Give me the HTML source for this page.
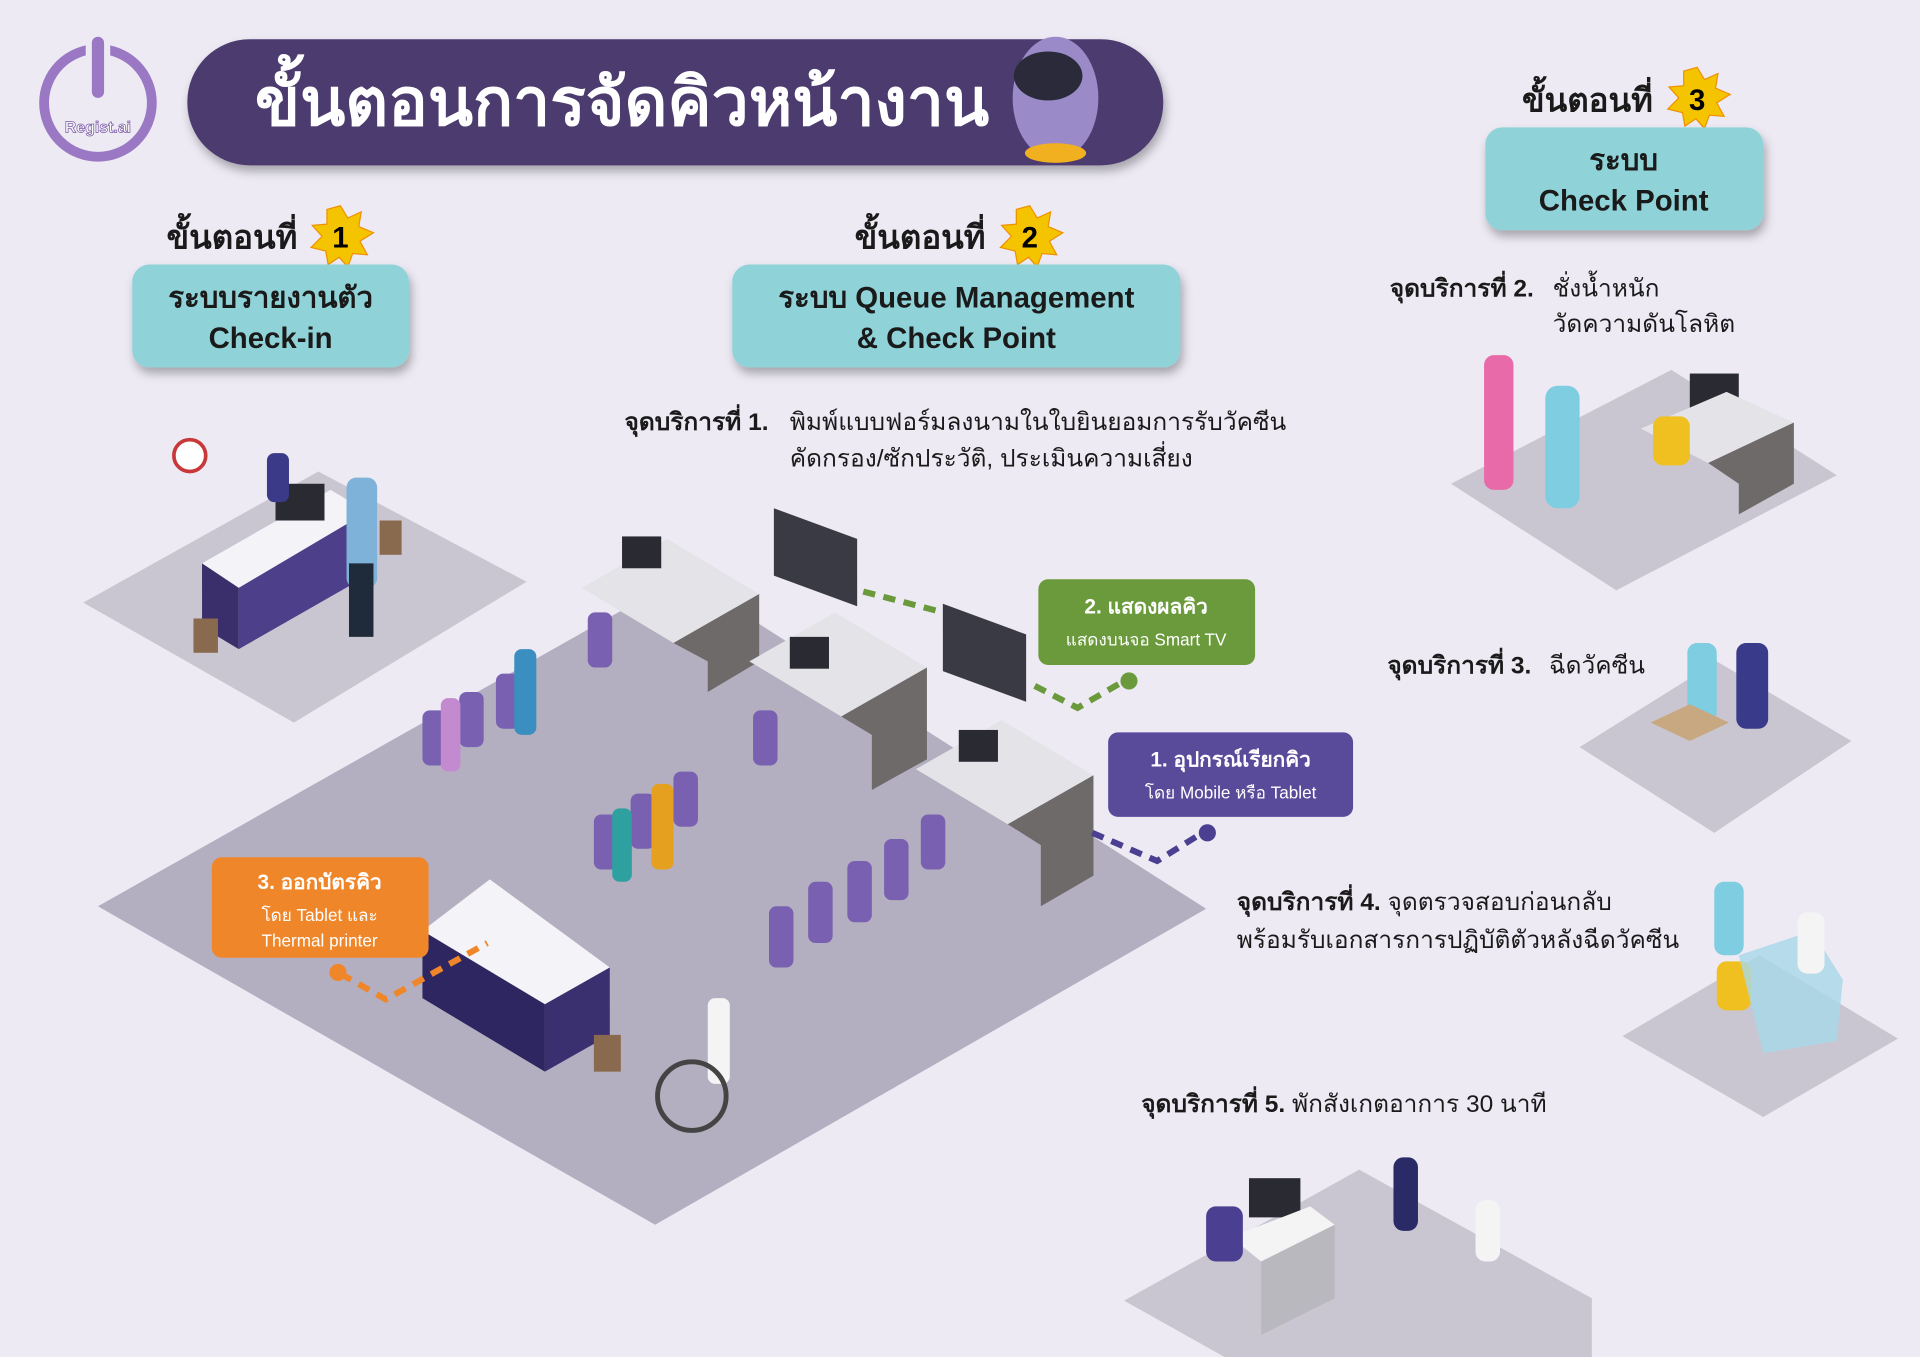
<!DOCTYPE html>
<html><head><meta charset="utf-8">
<style>
html,body{margin:0;padding:0;background:#EDEAF4;}
svg{display:block;}
text{font-family:"Liberation Sans","DejaVu Sans",sans-serif;}
</style></head>
<body>
<svg width="1920" height="1357" viewBox="0 0 1568 1108" preserveAspectRatio="none" xmlns="http://www.w3.org/2000/svg">
<defs>
<filter id="sh" x="-10%" y="-10%" width="130%" height="150%"><feDropShadow dx="2" dy="5" stdDeviation="4" flood-color="#000" flood-opacity="0.3"/></filter>
</defs>
<rect width="1568" height="1108" fill="#EDEAF4"/>

<!-- logo -->
<circle cx="80" cy="84" r="44" fill="none" stroke="#9A78C4" stroke-width="8"/>
<rect x="70" y="28" width="20" height="50" rx="10" fill="#EDEAF4"/>
<rect x="75" y="30" width="10" height="50" rx="5" fill="#9A78C4"/>
<text x="80" y="108" font-size="13" font-weight="bold" fill="#fff" stroke="#7A5AA4" stroke-width="0.6" text-anchor="middle">Regist.ai</text>

<!-- title pill -->
<rect x="153" y="32" width="797" height="103" rx="51" fill="#4B3A6E" filter="url(#sh)"/>
<text x="508" y="102" font-size="54" font-weight="bold" fill="#fff" text-anchor="middle">ขั้นตอนการจัดคิวหน้างาน</text>
<!-- mascot -->
<ellipse cx="862" cy="80" rx="35" ry="50" fill="#9B8AC8"/>
<ellipse cx="856" cy="62" rx="28" ry="20" fill="#2A2A3A"/>
<ellipse cx="862" cy="125" rx="25" ry="8" fill="#F0B020"/>

<!-- step headings -->
<g font-weight="bold" font-size="27" fill="#1A1A1A">
<text x="136" y="203">ขั้นตอนที่</text>
<text x="698" y="203">ขั้นตอนที่</text>
<text x="1243" y="91">ขั้นตอนที่</text>
</g>
<g>
<polygon points="278,168 284,178 295,173 293,185 305,190 294,197 300,208 288,207 284,218 277,210 268,216 266,205 254,202 263,193 255,184 267,183 267,171" fill="#F5C400" stroke="#F09000"/>
<text x="278" y="202" font-size="24" font-weight="bold" text-anchor="middle">1</text>
<polygon points="841,168 847,178 858,173 856,185 868,190 857,197 863,208 851,207 847,218 840,210 831,216 829,205 817,202 826,193 818,184 830,183 830,171" fill="#F5C400" stroke="#F09000"/>
<text x="841" y="202" font-size="24" font-weight="bold" text-anchor="middle">2</text>
<polygon points="1386,55 1392,65 1403,60 1401,72 1413,77 1402,84 1408,95 1396,94 1392,105 1385,97 1376,103 1374,92 1362,89 1371,80 1363,71 1375,70 1375,58" fill="#F5C400" stroke="#F09000"/>
<text x="1386" y="90" font-size="24" font-weight="bold" text-anchor="middle">3</text>
</g>

<!-- teal boxes -->
<g filter="url(#sh)" fill="#8FD3D9">
<rect x="108" y="216" width="226" height="84" rx="14"/>
<rect x="598" y="216" width="366" height="84" rx="14"/>
<rect x="1213" y="104" width="227" height="84" rx="14"/>
</g>
<g font-weight="bold" font-size="24" fill="#1A1A1A" text-anchor="middle">
<text x="221" y="251">ระบบรายงานตัว</text>
<text x="221" y="284">Check-in</text>
<text x="781" y="251">ระบบ Queue Management</text>
<text x="781" y="284">&amp; Check Point</text>
<text x="1326" y="139">ระบบ</text>
<text x="1326" y="172">Check Point</text>
</g>

<!-- floors -->
<polygon points="68,492 240,590 430,475 260,385" fill="#C9C6D2"/>
<polygon points="80,740 535,1000 985,742 558,470" fill="#B3AFC0"/>
<polygon points="1185,395 1320,482 1500,388 1365,302" fill="#C9C6D2"/>
<polygon points="1290,610 1400,680 1512,605 1402,540" fill="#C9C6D2"/>
<polygon points="1325,846 1440,912 1550,848 1437,780" fill="#C9C6D2"/>
<polygon points="918,1062 1000,1108 1300,1108 1300,1060 1110,955" fill="#C9C6D2"/>

<!-- check-in desk -->
<polygon points="165,460 270,400 300,418 195,480" fill="#F4F4F8"/>
<polygon points="165,460 195,480 195,530 165,512" fill="#3A2F6A"/>
<polygon points="195,480 300,418 300,470 195,530" fill="#4E3F8A"/>
<rect x="225" y="395" width="40" height="30" fill="#2A2A33"/>
<rect x="283" y="390" width="25" height="90" rx="8" fill="#7EB2D8"/>
<rect x="285" y="460" width="20" height="60" fill="#1F2A3A"/>
<rect x="218" y="370" width="18" height="40" rx="6" fill="#3A3A88"/>
<circle cx="155" cy="372" r="13" fill="#fff" stroke="#C83838" stroke-width="3"/>
<rect x="158" y="505" width="20" height="28" fill="#8A6A4E"/>
<rect x="310" y="425" width="18" height="28" fill="#8A6A4E"/>

<!-- counters -->
<g>
<polygon points="475,480 545,440 620,485 550,525" fill="#E4E4E8"/>
<polygon points="550,525 620,485 620,540 578,565 578,540 550,525" fill="#6E6A6A"/>
<rect x="508" y="438" width="32" height="26" fill="#2A2A33"/>
<polygon points="612,540 682,500 757,545 687,585" fill="#E4E4E8"/>
<polygon points="687,585 757,545 757,620 712,645 712,600" fill="#6E6A6A"/>
<rect x="645" y="520" width="32" height="26" fill="#2A2A33"/>
<polygon points="748,628 818,588 893,633 823,673" fill="#E4E4E8"/>
<polygon points="823,673 893,633 893,715 850,740 850,690" fill="#6E6A6A"/>
<rect x="783" y="596" width="32" height="26" fill="#2A2A33"/>
</g>
<!-- TVs -->
<polygon points="632,415 700,440 700,495 632,470" fill="#3A3A44"/>
<polygon points="770,493 838,518 838,573 770,548" fill="#3A3A44"/>
<!-- chairs rows -->
<g fill="#7A60B0">
<rect x="345" y="580" width="20" height="45" rx="6"/><rect x="375" y="565" width="20" height="45" rx="6"/><rect x="405" y="550" width="20" height="45" rx="6"/>
<rect x="485" y="665" width="20" height="45" rx="6"/><rect x="515" y="648" width="20" height="45" rx="6"/><rect x="550" y="630" width="20" height="45" rx="6"/>
<rect x="628" y="740" width="20" height="50" rx="6"/><rect x="660" y="720" width="20" height="50" rx="6"/><rect x="692" y="703" width="20" height="50" rx="6"/><rect x="722" y="685" width="20" height="50" rx="6"/>
<rect x="480" y="500" width="20" height="45" rx="6"/><rect x="615" y="580" width="20" height="45" rx="6"/><rect x="752" y="665" width="20" height="45" rx="6"/>
</g>
<!-- people -->
<g>
<rect x="360" y="570" width="16" height="60" rx="6" fill="#C48AD0"/>
<rect x="420" y="530" width="18" height="70" rx="6" fill="#3A8FC0"/>
<rect x="532" y="640" width="18" height="70" rx="6" fill="#E6A020"/>
<rect x="500" y="660" width="16" height="60" rx="6" fill="#2EA0A0"/>
<rect x="578" y="815" width="18" height="70" rx="6" fill="#F4F4F4"/>
<circle cx="565" cy="895" r="28" fill="none" stroke="#444" stroke-width="4"/>
</g>
<!-- print desk -->
<polygon points="345,760 400,718 498,790 445,820" fill="#F4F4F8"/>
<polygon points="345,760 445,820 445,875 345,815" fill="#2E2660"/>
<polygon points="445,820 498,790 498,845 445,875" fill="#3A3070"/>
<rect x="485" y="845" width="22" height="30" fill="#8A6A4E"/>

<!-- step 3 scenes -->
<rect x="1380" y="305" width="40" height="30" fill="#2A2A33"/>
<polygon points="1340,350 1410,320 1465,345 1395,378" fill="#E4E4E8"/>
<polygon points="1395,378 1465,345 1465,395 1420,420 1420,395" fill="#6E6A6A"/>
<rect x="1212" y="290" width="24" height="110" rx="8" fill="#E86AA8"/>
<rect x="1262" y="315" width="28" height="100" rx="10" fill="#7ECDE0"/>
<rect x="1350" y="340" width="30" height="40" rx="8" fill="#F0C020"/>
<rect x="1378" y="525" width="24" height="65" rx="8" fill="#7ECDE0"/>
<rect x="1418" y="525" width="26" height="70" rx="8" fill="#3A3A8A"/>
<polygon points="1348,590 1380,575 1412,590 1380,605" fill="#C8A880"/>
<rect x="1400" y="720" width="24" height="60" rx="8" fill="#7ECDE0"/>
<rect x="1402" y="785" width="28" height="40" rx="8" fill="#F0C020"/>
<polygon points="1420,780 1480,760 1505,800 1500,850 1440,860" fill="#A8D8E8" opacity="0.8"/>
<rect x="1468" y="745" width="22" height="50" rx="8" fill="#F4F4F4"/>
<rect x="1020" y="962" width="42" height="32" fill="#2A2A33"/>
<polygon points="1005,1010 1070,985 1090,1000 1030,1030" fill="#F4F4F4"/>
<polygon points="1030,1030 1090,1000 1090,1060 1030,1090" fill="#B8B8BE"/>
<rect x="985" y="985" width="30" height="45" rx="8" fill="#4A3F90"/>
<rect x="1138" y="945" width="20" height="60" rx="8" fill="#2A2A66"/>
<rect x="1205" y="980" width="20" height="50" rx="8" fill="#F4F4F4"/>

<!-- dashed connectors -->
<g fill="none" stroke-width="5" stroke-dasharray="10 7">
<path d="M705,483 L770,500" stroke="#6A9A3C"/>
<path d="M845,560 L880,578 L918,556" stroke="#6A9A3C"/>
<path d="M892,680 L945,703 L982,680" stroke="#4A3F90"/>
<path d="M278,795 L315,816 L398,770" stroke="#F0862A"/>
</g>
<circle cx="922" cy="556" r="7" fill="#6A9A3C"/>
<circle cx="986" cy="680" r="7" fill="#4A3F90"/>
<circle cx="276" cy="794" r="7" fill="#F0862A"/>

<!-- label boxes -->
<rect x="848" y="473" width="177" height="70" rx="8" fill="#6A9A3C"/>
<text x="936" y="501" font-size="17" font-weight="bold" fill="#fff" text-anchor="middle">2. แสดงผลคิว</text>
<text x="936" y="527" font-size="14" fill="#fff" text-anchor="middle">แสดงบนจอ Smart TV</text>
<rect x="905" y="598" width="200" height="69" rx="8" fill="#5A4A9A"/>
<text x="1005" y="626" font-size="17" font-weight="bold" fill="#fff" text-anchor="middle">1. อุปกรณ์เรียกคิว</text>
<text x="1005" y="652" font-size="14" fill="#fff" text-anchor="middle">โดย Mobile หรือ Tablet</text>
<rect x="173" y="700" width="177" height="82" rx="8" fill="#F0862A"/>
<text x="261" y="726" font-size="17" font-weight="bold" fill="#fff" text-anchor="middle">3. ออกบัตรคิว</text>
<text x="261" y="752" font-size="14" fill="#fff" text-anchor="middle">โดย Tablet และ</text>
<text x="261" y="773" font-size="14" fill="#fff" text-anchor="middle">Thermal printer</text>

<!-- service point texts -->
<g font-size="20" fill="#1A1A1A">
<text x="510" y="351"><tspan font-weight="bold">จุดบริการที่ 1.</tspan></text>
<text x="645" y="351">พิมพ์แบบฟอร์มลงนามในใบยินยอมการรับวัคซีน</text>
<text x="645" y="381">คัดกรอง/ซักประวัติ, ประเมินความเสี่ยง</text>
<text x="1135" y="242" font-weight="bold">จุดบริการที่ 2.</text>
<text x="1268" y="242">ชั่งน้ำหนัก</text>
<text x="1268" y="271">วัดความดันโลหิต</text>
<text x="1133" y="550" font-weight="bold">จุดบริการที่ 3.</text>
<text x="1265" y="550">ฉีดวัคซีน</text>
<text x="1010" y="743"><tspan font-weight="bold">จุดบริการที่ 4.</tspan>  จุดตรวจสอบก่อนกลับ</text>
<text x="1010" y="774">พร้อมรับเอกสารการปฏิบัติตัวหลังฉีดวัคซีน</text>
<text x="932" y="908"><tspan font-weight="bold">จุดบริการที่ 5.</tspan>  พักสังเกตอาการ 30 นาที</text>
</g>
</svg>
</body></html>
